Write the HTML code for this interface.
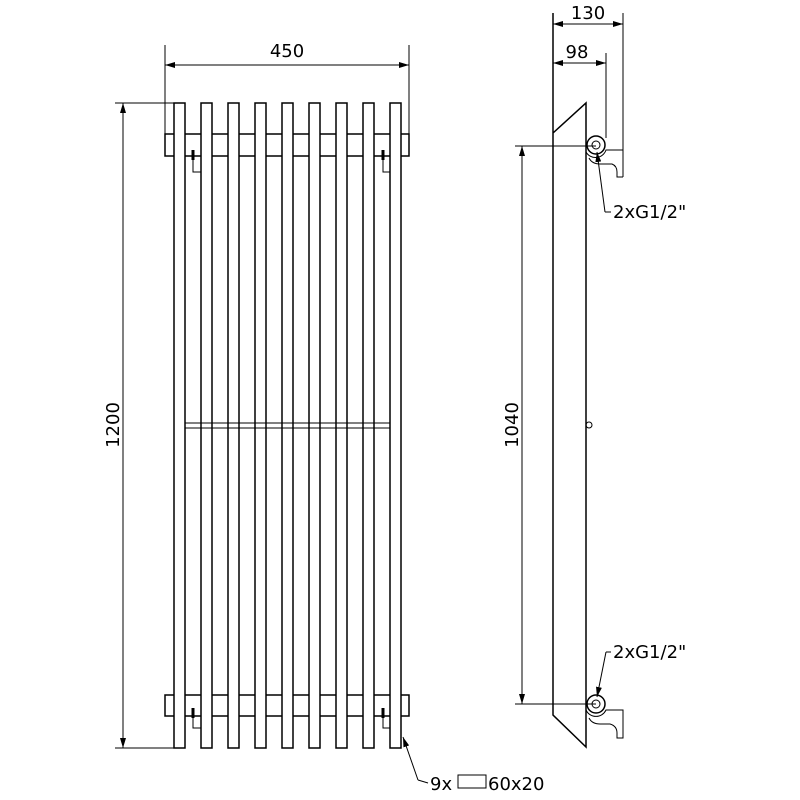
<!DOCTYPE html>
<html><head><style>body{margin:0;background:#fff}svg{display:block}</style></head><body>
<svg width="800" height="800" viewBox="0 0 800 800" xmlns="http://www.w3.org/2000/svg" font-family="'DejaVu Sans','Liberation Sans',sans-serif" font-size="18">
<defs><marker id="a" markerWidth="10" markerHeight="6" refX="10" refY="3" orient="auto" markerUnits="userSpaceOnUse"><path d="M0,0L10,3L0,6z" fill="#000"/></marker></defs>
<g fill="none" stroke="#000" stroke-width="1.5">
<!-- headers -->
<rect x="165" y="134" width="244" height="22" fill="#fff"/>
<rect x="165" y="695" width="244" height="21" fill="#fff"/>
<g fill="#fff">
<rect x="174" y="103" width="11" height="645"/><rect x="201" y="103" width="11" height="645"/><rect x="228" y="103" width="11" height="645"/>
<rect x="255" y="103" width="11" height="645"/><rect x="282" y="103" width="11" height="645"/><rect x="309" y="103" width="11" height="645"/>
<rect x="336" y="103" width="11" height="645"/><rect x="363" y="103" width="11" height="645"/><rect x="390" y="103" width="11" height="645"/>
</g>
<path d="M185 423H390M185 428H390" stroke-width="1"/>
<!-- clips -->
<path d="M193 152V172H201M383 152V172H390M193 710V728H201M383 710V728H390" stroke-width="1"/>
<path d="M193 150V160M383 150V160M193 708V718M383 708V718" stroke-width="3"/>
<!-- dims front -->
<path d="M165 134V45M409 134V45M115 103H174M115 748H174" stroke-width="1"/>
<path d="M175 65H165M175 65H409" stroke-width="1"/>
<line x1="287" y1="65" x2="165" y2="65" stroke-width="1" marker-end="url(#a)"/>
<line x1="287" y1="65" x2="409" y2="65" stroke-width="1" marker-end="url(#a)"/>
<line x1="123" y1="425" x2="123" y2="103" stroke-width="1" marker-end="url(#a)"/>
<line x1="123" y1="425" x2="123" y2="748" stroke-width="1" marker-end="url(#a)"/>
<!-- leader 9x -->
<line x1="418" y1="780" x2="403" y2="737" stroke-width="1" marker-end="url(#a)"/>
<path d="M418 780L428 783" stroke-width="1"/>
<rect x="458" y="775" width="28" height="13" stroke-width="1"/>
<!-- side view -->
<path d="M553 13V715L586 747V103L553 133" />
<path d="M623 13V177M606 53V138" stroke-width="1"/>
<circle cx="596" cy="145" r="9"/><circle cx="596" cy="145" r="4" stroke-width="1"/>
<path d="M586 152A11 11 0 0 0 606 150H623M589 158Q592 164 600 164H612Q617 166 617 172V177H623" stroke-width="1"/>
<circle cx="596" cy="704" r="9"/><circle cx="596" cy="704" r="4" stroke-width="1"/>
<path d="M586 710A11 11 0 0 0 606 710H623V738H617V733Q617 726 610 724H600Q592 724 589 718" stroke-width="1"/>
<circle cx="589" cy="425" r="3" stroke-width="1"/>
<path d="M515 146H596M515 704H596" stroke-width="1"/>
<line x1="522" y1="425" x2="522" y2="146" stroke-width="1" marker-end="url(#a)"/>
<line x1="522" y1="425" x2="522" y2="704" stroke-width="1" marker-end="url(#a)"/>
<line x1="588" y1="24" x2="553" y2="24" stroke-width="1" marker-end="url(#a)"/>
<line x1="588" y1="24" x2="623" y2="24" stroke-width="1" marker-end="url(#a)"/>
<line x1="580" y1="63" x2="553" y2="63" stroke-width="1" marker-end="url(#a)"/>
<line x1="580" y1="63" x2="606" y2="63" stroke-width="1" marker-end="url(#a)"/>
<!-- leaders G1/2 -->
<path d="M611 212H605" stroke-width="1"/><line x1="605" y1="212" x2="597" y2="152" stroke-width="1" marker-end="url(#a)"/>
<path d="M611 652H606" stroke-width="1"/><line x1="606" y1="652" x2="597" y2="697" stroke-width="1" marker-end="url(#a)"/>
</g>
<g fill="#000">
<text x="287" y="57" text-anchor="middle">450</text>
<text x="588" y="19" text-anchor="middle">130</text>
<text x="577" y="58" text-anchor="middle">98</text>
<text x="613" y="218">2xG1/2"</text>
<text x="613" y="658">2xG1/2"</text>
<text x="430" y="790">9x</text>
<text x="488" y="790">60x20</text>
<text transform="translate(119,425) rotate(-90)" text-anchor="middle">1200</text>
<text transform="translate(518,425) rotate(-90)" text-anchor="middle">1040</text>
</g>
</svg>
</body></html>
